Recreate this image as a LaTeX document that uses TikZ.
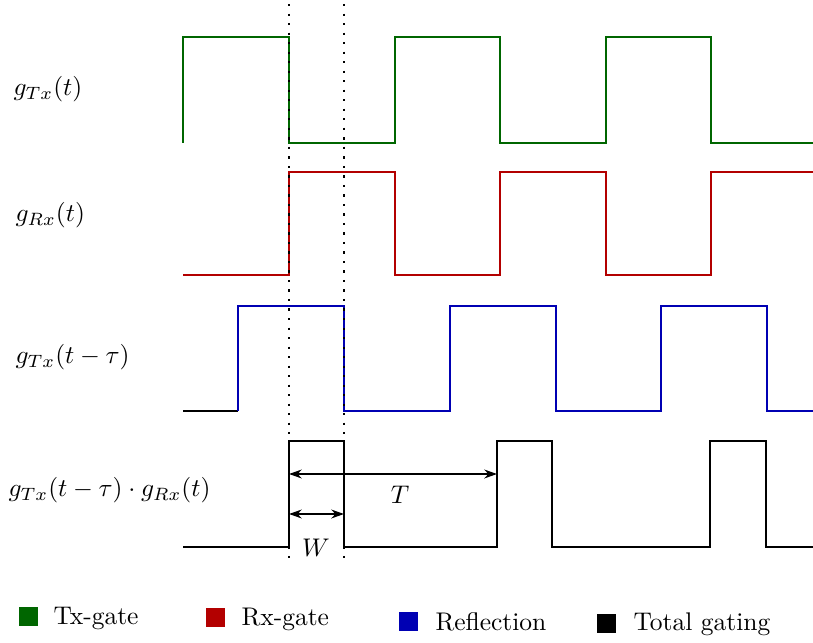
\documentclass[tikz,border=0pt]{standalone}
\usetikzlibrary{arrows.meta}
\definecolor{txg}{RGB}{0,102,0}
\definecolor{rxg}{RGB}{179,0,0}
\definecolor{refl}{RGB}{0,0,179}
\begin{document}
\begin{tikzpicture}[x=0.392pt,y=-0.392pt,
  sig/.style={line width=1pt},
  guide/.style={line width=0.9pt,dash pattern=on 0.9pt off 2.83pt},
  dim/.style={line width=0.6pt,{Stealth[length=5pt,width=3.5pt]}-{Stealth[length=5pt,width=3.5pt]}},
  lbl/.style={anchor=west,inner sep=0pt},
  legsq/.style={minimum size=19*0.392pt,inner sep=0pt,draw=none},
  legtxt/.style={anchor=west,inner sep=0pt}]
\useasboundingbox (0,0) rectangle (813,642);
% labels
\node[lbl] (l1) at (13,89) {$g_{Tx}(t)$};
\node[lbl] (l2) at (15,215) {$g_{Rx}(t)$};
\node[lbl] (l3) at (15,357) {$g_{Tx}(t-\tau)$};
\node[lbl] (l4) at (8,490) {$g_{Tx}(t-\tau)\cdot g_{Rx}(t)$};
% Tx gate
\draw[sig,txg] (183,143) -- (183,37) -- (289,37) -- (289,143) -- (395,143) -- (395,37) -- (500,37) -- (500,143) -- (606,143) -- (606,37) -- (711,37) -- (711,143) -- (813,143);
% Rx gate
\draw[sig,rxg] (183,275) -- (289,275) -- (289,172) -- (395,172) -- (395,275) -- (500,275) -- (500,172) -- (606,172) -- (606,275) -- (711,275) -- (711,172) -- (813,172);
% Reflection
\draw[sig,black] (183,411) -- (238,411);
\draw[sig,refl] (238,411) -- (238,306) -- (344,306) -- (344,411) -- (450,411) -- (450,306) -- (556,306) -- (556,411) -- (661,411) -- (661,306) -- (767,306) -- (767,411) -- (813,411);
% Total
\draw[sig,black] (183,547) -- (289,547) -- (289,441) -- (344,441) -- (344,547) -- (497,547) -- (497,441) -- (552,441) -- (552,547) -- (710,547) -- (710,441) -- (766,441) -- (766,547) -- (813,547);
% guides
\coordinate (g1t) at (289,4);
\coordinate (g1b) at (289,563);
\coordinate (g2t) at (344,4);
\coordinate (g2b) at (344,563);
\draw[guide] (g1t) -- (g1b);
\draw[guide] (g2t) -- (g2b);
% dimensions
\coordinate (Ta) at (289,474);
\coordinate (Tb) at (497,474);
\coordinate (Wa) at (289,514);
\coordinate (Wb) at (344,514);
\draw[dim] (Ta) -- (Tb);
\draw[dim] (Wa) -- (Wb);
\node (T) at (400,495) {$T$};
\node (W) at (316,548) {$W$};
% legend
\node[legsq,fill=txg] (s1) at (28.5,616.5) {};
\node[legtxt] (t1) at (53,618) {Tx-gate};
\node[legsq,fill=rxg] (s2) at (215.5,617) {};
\node[legtxt] (t2) at (241,619) {Rx-gate};
\node[legsq,fill=refl] (s3) at (408.5,621) {};
\node[legtxt] (t3) at (435,622) {Reflection};
\node[legsq,fill=black] (s4) at (606.5,623) {};
\node[legtxt] (t4) at (633,624) {Total gating};
\end{tikzpicture}
\end{document}
